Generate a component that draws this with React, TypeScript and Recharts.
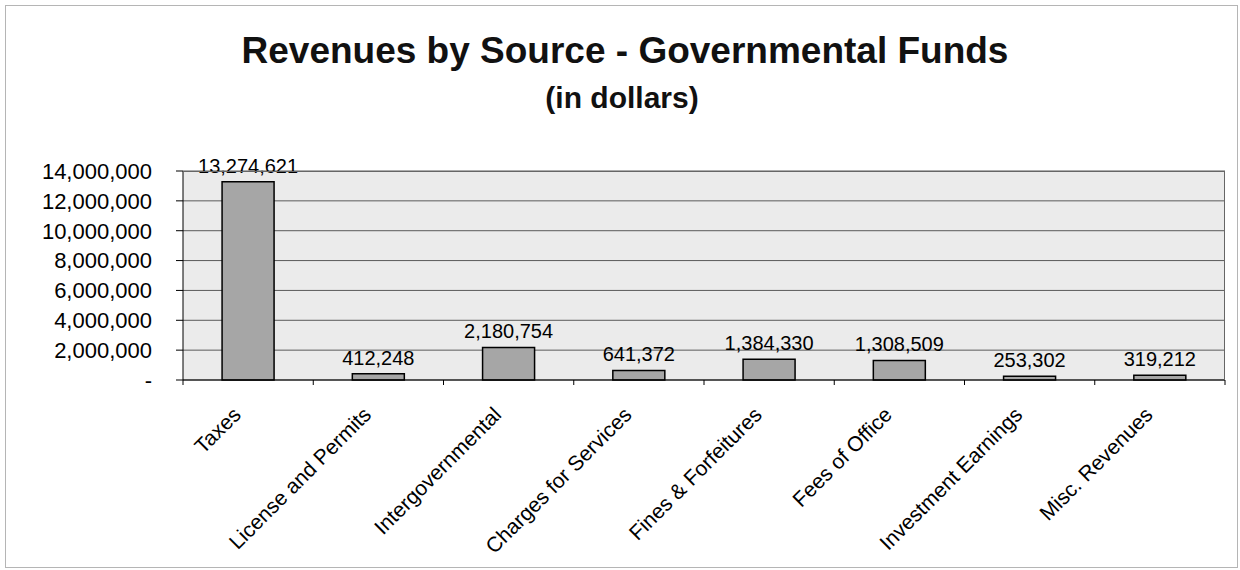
import { BarChart, Bar, XAxis, YAxis, CartesianGrid, LabelList } from 'recharts';

const categories = [
  'Taxes',
  'License and Permits',
  'Intergovernmental',
  'Charges for Services',
  'Fines & Forfeitures',
  'Fees of Office',
  'Investment Earnings',
  'Misc. Revenues',
];
const revenues = [13274621, 412248, 2180754, 641372, 1384330, 1308509, 253302, 319212];
const yTicks = [0, 2000000, 4000000, 6000000, 8000000, 10000000, 12000000, 14000000];

const data = categories.map((name, i) => ({ name, value: revenues[i] }));

const FONT = 'Arial, "Liberation Sans", sans-serif';
const CHART_W = 1240;
const PLOT_LEFT = 183;
const PLOT_RIGHT_MARGIN = 15;
const HALF_BAND = (CHART_W - PLOT_LEFT - PLOT_RIGHT_MARGIN) / categories.length / 2;

const fmt = (v: number) => (v === 0 ? '-' : v.toLocaleString('en-US'));

// rotated category label plus the little boundary ticks Excel draws between categories
function CategoryTick({ x, y, payload, index }: any) {
  const axisY = y - 8;
  return (
    <g>
      {index === 0 && <line x1={x - HALF_BAND} x2={x - HALF_BAND} y1={axisY} y2={axisY + 5} stroke="#000" />}
      <line x1={x + HALF_BAND} x2={x + HALF_BAND} y1={axisY} y2={axisY + 5} stroke="#000" />
      <text
        transform={`translate(${x - 6},${y + 28}) rotate(-45)`}
        textAnchor="end"
        fontFamily={FONT}
        fontSize={21}
        fill="#000"
      >
        {payload.value}
      </text>
    </g>
  );
}

export default function App() {
  return (
    <div style={{ position: 'absolute', left: 0, top: 0, width: 1240, height: 570, background: '#fff', fontFamily: FONT }}>
      <div style={{
        position: 'absolute', left: 5, top: 5, width: 1233, height: 563,
        border: '1px solid #b5b5b5', boxSizing: 'border-box',
      }} />
      <div style={{
        position: 'absolute', left: 0, top: 29, width: 1250, textAlign: 'center',
        fontSize: 37, fontWeight: 'bold', color: '#111', lineHeight: '44px',
      }}>
        Revenues by Source - Governmental Funds
      </div>
      <div style={{
        position: 'absolute', left: 0, top: 80, width: 1244, textAlign: 'center',
        fontSize: 30, fontWeight: 'bold', color: '#111', lineHeight: '36px',
      }}>
        (in dollars)
      </div>

      <div style={{ position: 'absolute', left: 0, top: 0 }}>
        <BarChart
          width={CHART_W}
          height={570}
          data={data}
          margin={{ top: 171, right: PLOT_RIGHT_MARGIN, bottom: 0, left: 0 }}
          barCategoryGap="30%"
        >
          <CartesianGrid vertical={false} stroke="#5a5a5a" fill="#ebebeb" />
          <XAxis
            dataKey="name"
            interval={0}
            height={190}
            tickSize={6}
            tickMargin={2}
            tickLine={false}
            axisLine={{ stroke: '#000' }}
            tick={<CategoryTick />}
          />
          <YAxis
            width={PLOT_LEFT}
            domain={[0, 14000000]}
            ticks={yTicks}
            interval={0}
            tickFormatter={fmt}
            tickSize={7}
            tickMargin={24}
            axisLine={{ stroke: '#000' }}
            tickLine={{ stroke: '#000' }}
            tick={{ fill: '#000', fontSize: 22, fontFamily: FONT }}
          />
          <Bar dataKey="value" fill="#a6a6a6" stroke="#000" strokeWidth={1.5} isAnimationActive={false}>
            <LabelList
              dataKey="value"
              position="top"
              offset={9}
              formatter={(v: any) => Number(v).toLocaleString('en-US')}
              style={{ fill: '#000', fontSize: 20, fontFamily: FONT }}
            />
          </Bar>
        </BarChart>
      </div>

      <div style={{
        position: 'absolute', left: PLOT_LEFT, top: 171, width: CHART_W - PLOT_LEFT - PLOT_RIGHT_MARGIN, height: 209,
        borderTop: '1px solid #666', borderRight: '1px solid #666', boxSizing: 'border-box', pointerEvents: 'none',
      }} />
    </div>
  );
}
